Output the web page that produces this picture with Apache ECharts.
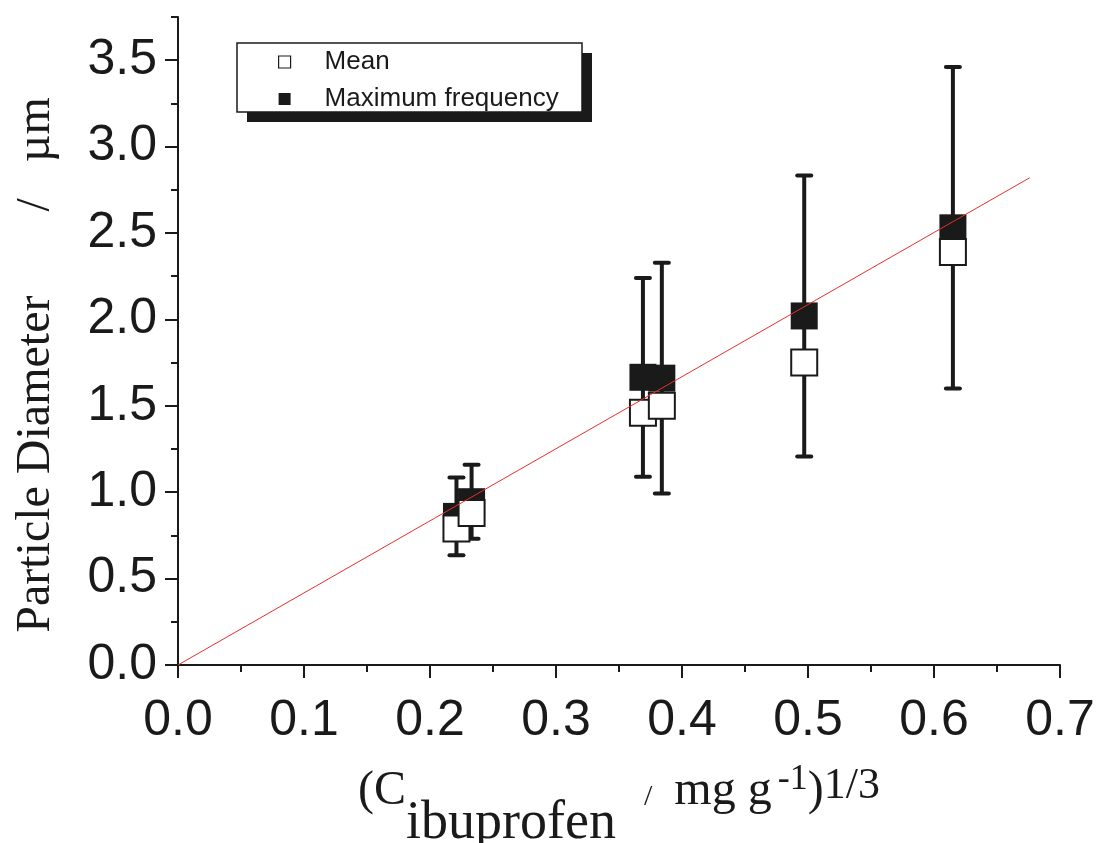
<!DOCTYPE html>
<html>
<head>
<meta charset="utf-8">
<script src="https://cdn.jsdelivr.net/npm/echarts@6/dist/echarts.min.js"></script>
<style>
  html, body { margin: 0; padding: 0; background: #fff; }
  #chart { width: 1098px; height: 843px; }
</style>
</head>
<body>
<div id="chart"></div>
<script>
// (C / mg g^-1)^(1/3) for each sample
const concentration = [0.221, 0.233, 0.369, 0.384, 0.497, 0.615];
// mean particle diameter, µm
const meanDiameter = [0.79, 0.88, 1.46, 1.50, 1.75, 2.39];
// diameter at maximum frequency, µm
const modeDiameter = [0.86, 0.945, 1.665, 1.66, 2.02, 2.53];
// half-width of the error bar on the maximum-frequency points
const modeError = [0.225, 0.214, 0.575, 0.668, 0.813, 0.93];
// linear fit through the origin
const fitLine = [[0, 0], [0.676, 2.82]];
// tick values
const xTicks = [0, 0.1, 0.2, 0.3, 0.4, 0.5, 0.6, 0.7];
const yTicks = [0, 0.5, 1.0, 1.5, 2.0, 2.5, 3.0, 3.5];

const ink = '#1a1a1a';
const chart = echarts.init(document.getElementById('chart'), null, { renderer: 'canvas' });

const meanData = concentration.map((x, i) => [x, meanDiameter[i]]);
const modeData = concentration.map((x, i) => [x, modeDiameter[i]]);
const errData = concentration.map((x, i) => [x, modeDiameter[i] - modeError[i], modeDiameter[i] + modeError[i]]);

const tickFont = { fontFamily: 'Liberation Sans', fontSize: 50, color: ink };
const serif = 'Liberation Serif';

chart.setOption({
  animation: false,
  backgroundColor: '#fff',
  grid: { left: 178, right: 38, top: 17, bottom: 178, containLabel: false, outerBoundsMode: 'none' },
  // legend frame with its solid drop shadow
  graphic: [
    { type: 'rect', z: 1, silent: true, shape: { x: 247, y: 53, width: 345, height: 69 }, style: { fill: ink } },
    { type: 'rect', z: 2, silent: true, shape: { x: 237, y: 43, width: 345, height: 69 }, style: { fill: '#fff', stroke: ink, lineWidth: 1.5 } }
  ],
  legend: {
    z: 10,
    orient: 'vertical',
    left: 237,
    top: 43,
    selectedMode: false,
    data: [
      { name: 'Mean', icon: 'rect', itemStyle: { color: '#fff', borderColor: ink, borderWidth: 1.2 } },
      { name: 'Maximum frequency', icon: 'rect', itemStyle: { color: ink, borderWidth: 0 } }
    ],
    itemWidth: 12,
    itemHeight: 12,
    itemGap: 7,
    padding: [4, 11, 2, 41],
    textStyle: { fontFamily: 'Liberation Sans', fontSize: 26, color: ink, lineHeight: 30, padding: [0, 0, 0, 29] }
  },
  xAxis: {
    type: 'value',
    min: 0,
    max: 0.7,
    interval: 0.1,
    axisLine: { onZero: false, lineStyle: { color: ink, width: 2 } },
    axisTick: { length: 13, lineStyle: { color: ink, width: 2 } },
    minorTick: { show: true, splitNumber: 2, length: 7, lineStyle: { color: ink, width: 2 } },
    splitLine: { show: false },
    axisLabel: Object.assign({ margin: 31, formatter: v => v.toFixed(1) }, tickFont),
    name: '{t|(C}{sub|ibuprofen}{sl|/}{t|mg g}{sup|-1}{t|)}{sup2|1/3}',
    nameLocation: 'middle',
    nameGap: 66,
    nameTextStyle: {
      fontFamily: serif,
      fontSize: 48,
      color: ink,
      rich: {
        t: { fontFamily: serif, fontSize: 48, color: ink },
        sub: { fontFamily: serif, fontSize: 54, color: ink, padding: [66, 0, 0, 0] },
        sl: { fontFamily: serif, fontSize: 30, color: ink, padding: [12, 22, 0, 28] },
        sup: { fontFamily: serif, fontSize: 36, color: ink, padding: [0, 0, 22, 6] },
        sup2: { fontFamily: serif, fontSize: 44, color: ink, padding: [0, 0, 10, 0] }
      }
    }
  },
  yAxis: [
    {
      type: 'value',
      min: 0,
      max: 3.75,
      interval: 0.5,
      axisLine: { onZero: false, lineStyle: { color: ink, width: 2 } },
      axisTick: { length: 13, customValues: yTicks, lineStyle: { color: ink, width: 2 } },
      splitLine: { show: false },
      axisLabel: Object.assign({ margin: 21, customValues: yTicks, formatter: v => v.toFixed(1) }, tickFont),
      name: 'Particle Diameter       /   µm',
      nameLocation: 'middle',
      nameRotate: 90,
      nameGap: 118,
      nameTextStyle: { fontFamily: serif, fontSize: 48, color: ink, padding: [0, 48, 0, 0] }
    },
    {
      // short ticks every 0.25
      type: 'value',
      min: 0,
      max: 3.75,
      interval: 0.25,
      position: 'left',
      axisLine: { show: false },
      axisTick: { show: true, length: 7, lineStyle: { color: ink, width: 2 } },
      axisLabel: { show: false },
      splitLine: { show: false }
    }
  ],
  series: [
    {
      name: 'error',
      type: 'custom',
      z: 2,
      silent: true,
      xAxisIndex: 0,
      yAxisIndex: 0,
      encode: { x: 0, y: [1, 2] },
      data: errData,
      renderItem: function (params, api) {
        const x = api.value(0);
        const lo = api.coord([x, api.value(1)]);
        const hi = api.coord([x, api.value(2)]);
        const cap = 7;
        const st = { stroke: ink, lineWidth: 4, lineCap: 'round' };
        return {
          type: 'group',
          children: [
            { type: 'line', shape: { x1: lo[0], y1: lo[1], x2: hi[0], y2: hi[1] }, style: { stroke: ink, lineWidth: 4 } },
            { type: 'line', shape: { x1: hi[0] - cap, y1: hi[1], x2: hi[0] + cap, y2: hi[1] }, style: st },
            { type: 'line', shape: { x1: lo[0] - cap, y1: lo[1], x2: lo[0] + cap, y2: lo[1] }, style: st }
          ]
        };
      }
    },
    {
      name: 'Maximum frequency',
      type: 'scatter',
      z: 3,
      silent: true,
      yAxisIndex: 0,
      symbol: 'rect',
      symbolSize: 27,
      itemStyle: { color: ink, opacity: 1 },
      data: modeData
    },
    {
      name: 'Mean',
      type: 'scatter',
      z: 4,
      silent: true,
      yAxisIndex: 0,
      symbol: 'rect',
      symbolSize: 26,
      itemStyle: { color: '#fff', borderColor: ink, borderWidth: 2, opacity: 1 },
      data: meanData
    },
    {
      name: 'fit',
      type: 'line',
      z: 5,
      silent: true,
      yAxisIndex: 0,
      symbol: 'none',
      lineStyle: { color: '#e8302a', width: 1 },
      data: fitLine
    }
  ]
});
</script>
</body>
</html>
